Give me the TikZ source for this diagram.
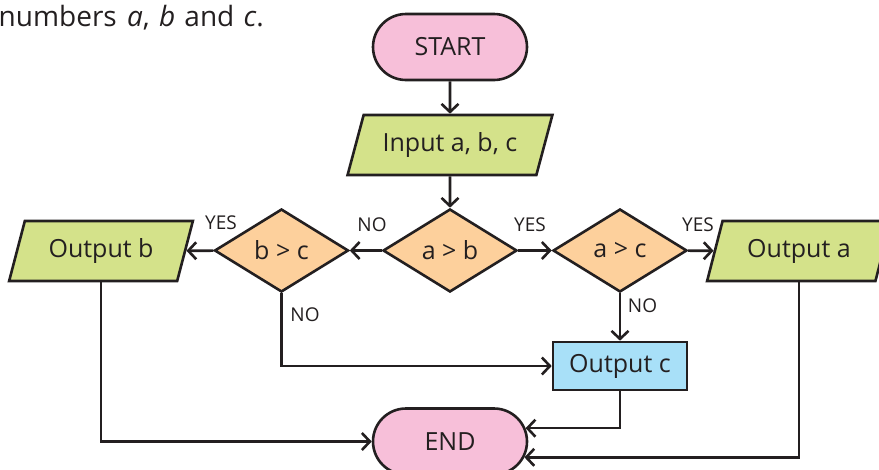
\documentclass[tikz,border=0pt]{standalone}
\usepackage{fontspec}
\setmainfont{Open Sans}
\usetikzlibrary{shapes.geometric,shapes.misc,arrows.meta,calc}
\definecolor{ink}{HTML}{231F20}
\definecolor{termfill}{HTML}{F7BFD9}
\definecolor{iofill}{HTML}{D4E28A}
\definecolor{decfill}{HTML}{FDD09C}
\definecolor{procfill}{HTML}{A8E0F8}
\begin{document}
\begin{tikzpicture}[x=1pt,y=-1pt,
  every node/.style={text=ink, font=\fontsize{25}{28}\selectfont},
  base/.style={draw=ink, line width=2.6pt, inner sep=0pt},
  terminal/.style={base, rounded rectangle, fill=termfill, minimum width=154pt, minimum height=66pt},
  io/.style={base, trapezium, trapezium stretches=true, fill=iofill, minimum height=60pt,
    minimum width=184pt, trapezium left angle=66.6, trapezium right angle=113.4},
  decision/.style={base, diamond, fill=decfill, minimum width=134pt, minimum height=83pt, aspect=1.6},
  process/.style={base, rectangle, fill=procfill, minimum width=134pt, minimum height=48pt},
  flow/.style={draw=ink, line width=2.6pt, -{Straight Barb[length=8pt,width=17pt]}},
  lbl/.style={font=\fontsize{19}{22}\selectfont, inner sep=0pt}
]
\useasboundingbox (0,0) rectangle (879,469);

% intro text, partly cut at the left edge
\node[anchor=base east, inner sep=0pt, font=\fontsize{28}{31}\selectfont] (intro) at (264,26)
  {numbers\hspace{3pt} \textit{a},\hspace{2pt} \textit{b}\hspace{2pt} and\hspace{2pt} \textit{c}.};

% flowchart nodes
\node[terminal] (start) at (450,47) {START};
\node[io, minimum width=205pt, trapezium left angle=63.4, trapezium right angle=116.6] (inp) at (450,145) {Input a, b, c};
\node[decision] (ab) at (450,250.5) {a > b};
\node[decision] (bc) at (281.5,250.5) {b > c};
\node[decision] (ac) at (620,250.5) {a > c};
\node[io] (ob) at (101,251) {Output b};
\node[io] (oa) at (799,251) {Output a};
\node[process] (oc) at (620,366) {Output c};
\node[terminal] (endn) at (450,441.5) {END};

% connectors
\draw[flow] (start) -- (inp);
\draw[flow] (inp) -- (ab);
\draw[flow] (ab) -- (bc);
\draw[flow] (ab) -- (ac);
\draw[flow] (bc) -- (ob);
\draw[flow] (ac) -- (oa);
\draw[flow] (ac) -- (oc);
\draw[flow] (bc.south) |- (oc.west);
\draw[flow] (ob.center |- ob.south) |- (endn.west);
\draw[flow] (oc.south) |- (endn.10);
\draw[flow] (oa.center |- oa.south) |- (endn.-12);

% branch labels
\node[lbl] (n1) at (372,224.5) {NO};
\node[lbl] (y1) at (221,222.5) {YES};
\node[lbl] (y2) at (530,224.5) {YES};
\node[lbl] (y3) at (698,224.5) {YES};
\node[lbl] (n2) at (642.5,305.5) {NO};
\node[lbl] (n3) at (305,315) {NO};
\end{tikzpicture}
\end{document}
